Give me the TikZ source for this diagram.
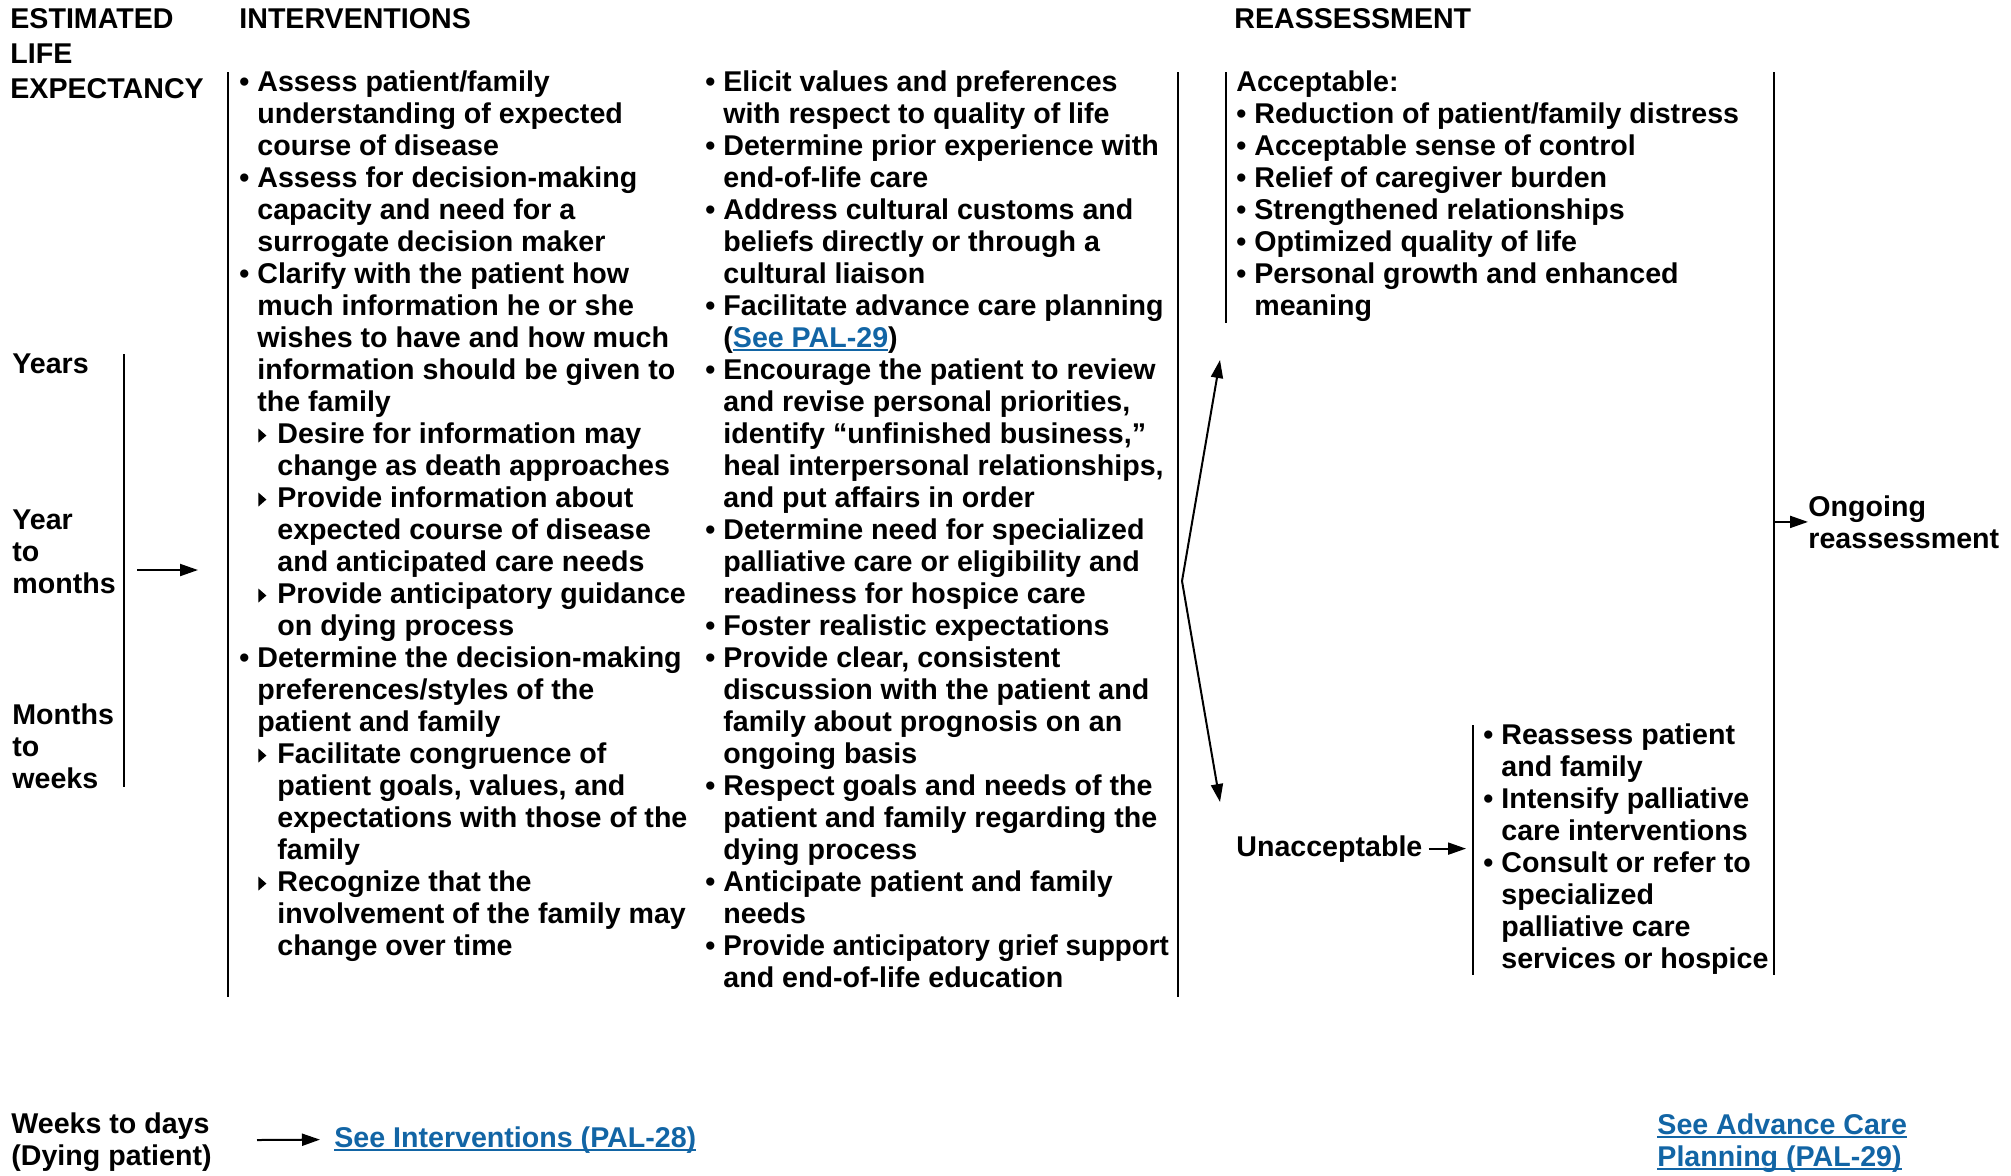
\documentclass[tikz,border=0pt]{standalone}
\usepackage{fontspec}
\usepackage{graphicx}
\setmainfont{Liberation Sans}
\usetikzlibrary{arrows.meta}
\definecolor{linkblue}{RGB}{18,101,165}
\newcommand{\bl}{\makebox[9pt][l]{\textbullet}}
\newcommand{\ind}{\hspace*{9pt}}
\newcommand{\tri}{\tikz[baseline=0pt,x=1pt,y=1pt]\fill (0,0.3)--(0,7.3)--(4,3.8)--cycle;}
\newcommand{\sbl}{\ind\makebox[10pt][l]{\hspace{0.5pt}\tri}}
\newcommand{\sind}{\hspace*{19pt}}
\newcommand{\lnk}[1]{{\color{linkblue}\setbox0\hbox{#1}\rlap{\rule[-2pt]{\wd0}{0.9pt}}\box0}}

\begin{document}
\begin{tikzpicture}[x=0.5pt,y=-0.5pt,
  txt/.style={inner sep=0pt,anchor=north west,align=left,font=\bfseries\fontsize{14.3}{16}\selectfont},
  head/.style={inner sep=0pt,anchor=north west,align=left,font=\bfseries\fontsize{14.3}{17.5}\selectfont},
  vline/.style={line width=1pt},
  arr/.style={line width=1pt,-{Triangle[length=9pt,width=6pt]}}]
\useasboundingbox (0,0) rectangle (2011,1175);

\node[head] (est) at (10,8) {ESTIMATED\\LIFE\\EXPECTANCY};
\node[head] (intv) at (239,8) {INTERVENTIONS};
\node[head] (reas) at (1234,8) {REASSESSMENT};

\node[txt] (yrs) at (12,353) {Years};
\node[txt] (ytm) at (12,509) {Year\\to\\months};
\node[txt] (mtw) at (12,703) {Months\\to\\weeks};

\node[txt] (col1) at (239,70) {\bl Assess patient/family\\
\ind understanding of expected\\
\ind course of disease\\
\bl Assess for decision-making\\
\ind capacity and need for a\\
\ind surrogate decision maker\\
\bl Clarify with the patient how\\
\ind much information he or she\\
\ind wishes to have and how much\\
\ind information should be given to\\
\ind the family\\
\sbl Desire for information may\\
\sind change as death approaches\\
\sbl Provide information about\\
\sind expected course of disease\\
\sind and anticipated care needs\\
\sbl Provide anticipatory guidance\\
\sind on dying process\\
\bl Determine the decision-making\\
\ind preferences/styles of the\\
\ind patient and family\\
\sbl Facilitate congruence of\\
\sind patient goals, values, and\\
\sind expectations with those of the\\
\sind family\\
\sbl Recognize that the\\
\sind involvement of the family may\\
\sind change over time};

\node[txt] (col2) at (705,70) {\bl Elicit values and preferences\\
\ind with respect to quality of life\\
\bl Determine prior experience with\\
\ind end-of-life care\\
\bl Address cultural customs and\\
\ind beliefs directly or through a\\
\ind cultural liaison\\
\bl Facilitate advance care planning\\
\ind (\lnk{See PAL-29})\\
\bl Encourage the patient to review\\
\ind and revise personal priorities,\\
\ind identify “unfinished business,”\\
\ind heal interpersonal relationships,\\
\ind and put affairs in order\\
\bl Determine need for specialized\\
\ind palliative care or eligibility and\\
\ind readiness for hospice care\\
\bl Foster realistic expectations\\
\bl Provide clear, consistent\\
\ind discussion with the patient and\\
\ind family about prognosis on an\\
\ind ongoing basis\\
\bl Respect goals and needs of the\\
\ind patient and family regarding the\\
\ind dying process\\
\bl Anticipate patient and family\\
\ind needs\\
\bl \scalebox{0.97}[1]{Provide anticipatory grief support}\\
\ind and end-of-life education};

\node[txt] (acc) at (1236,70) {Acceptable:\\
\bl Reduction of patient/family distress\\
\bl Acceptable sense of control\\
\bl Relief of caregiver burden\\
\bl Strengthened relationships\\
\bl Optimized quality of life\\
\bl Personal growth and enhanced\\
\ind meaning};

\node[txt,anchor=base west] (unacc) at (1236,856) {Unacceptable};
\node[txt] (unlist) at (1483,723) {\bl Reassess patient\\
\ind and family\\
\bl Intensify palliative\\
\ind care interventions\\
\bl Consult or refer to\\
\ind specialized\\
\ind palliative care\\
\ind services or hospice};

\node[txt] (ongo) at (1808,495) {Ongoing\\reassessment};

\node[txt] (wtd) at (11,1112) {Weeks to days\\(Dying patient)};
\node[txt,anchor=base west] (seeint) at (334,1147) {\lnk{See Interventions (PAL-28)}};
\node[txt] (seeacp) at (1657,1113) {\lnk{See Advance Care}\\\lnk{Planning (PAL-29)}};

\draw[vline] (124,354) -- (124,787);
\draw[vline] (228,72) -- (228,997);
\draw[vline] (1178,72) -- (1178,997);
\draw[vline] (1226,72) -- (1226,323);
\draw[vline] (1473,725) coordinate (unbr) -- (1473,975);
\draw[vline] (1774,72) coordinate (rgt) -- (1774,975);

\coordinate (yrsArr) at (137,570);
\coordinate (colArr) at (198,570);
\coordinate (split) at (1182,581);
\coordinate (accTip) at (1220,360);
\coordinate (unTip) at (1220,802);
\coordinate (wtdArr) at (257,1140);

\draw[arr] (yrsArr) -- (colArr);
\draw[arr] (split) -- (accTip);
\draw[arr] (split) -- (unTip);
\draw[arr] ([xshift=3pt]unacc.east) -- ([xshift=-3.5pt]unacc.east -| unbr);
\draw[arr] (ongo.west -| rgt) -- (ongo.west);
\draw[arr] (wtdArr) -- ([xshift=-7pt]seeint.west);
\end{tikzpicture}
\end{document}
